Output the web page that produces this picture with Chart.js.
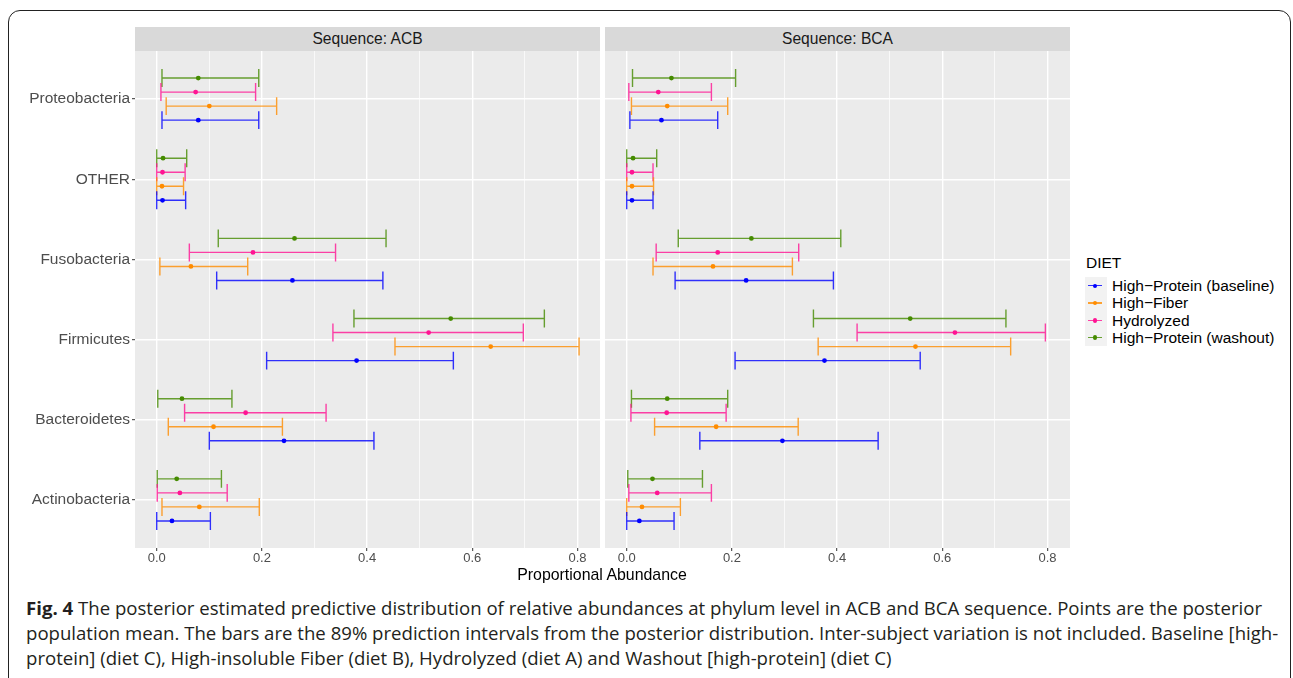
<!DOCTYPE html>
<html>
<head>
<meta charset="utf-8">
<script src="https://cdn.jsdelivr.net/npm/chart.js@4.4.0/dist/chart.umd.min.js"></script>
<style>
  body { margin: 0; background: #fff; width: 1293px; height: 678px; overflow: hidden; position: relative; font-family: "Liberation Sans", Arial, sans-serif; }
  .frame { position: absolute; left: 8px; top: 10px; width: 1283px; height: 720px; box-sizing: border-box; border: 1.5px solid #222; border-radius: 12px; }
  .strip { position: absolute; top: 27px; height: 24px; background: #D9D9D9; color: #1A1A1A; font-size: 15.6px; line-height: 24px; text-align: center; }
  canvas { position: absolute; }
  .xtitle { position: absolute; left: 402px; width: 400px; top: 565px; text-align: center; font-size: 15.9px; line-height: 20px; color: #000; }
  .legend { position: absolute; left: 1085px; top: 252px; font-size: 15.5px; color: #000; }
  .legend .ttl { height: 21px; line-height: 21px; padding-left: 1px; margin-bottom: 4px; }
  .legend .row { position: relative; height: 17.3px; line-height: 17.3px; }
  .legend .key { position: absolute; left: 0; top: 0; width: 22px; height: 17.3px; background: #F2F2F2; }
  .legend .key i { position: absolute; left: 3px; top: 8px; width: 14px; height: 1.4px; }
  .legend .key b { position: absolute; left: 7.5px; top: 6.5px; width: 4.5px; height: 4.5px; border-radius: 50%; }
  .legend .lab { position: absolute; left: 27px; top: 0; white-space: nowrap; }
  .caption { position: absolute; left: 26px; top: 595px; font-family: "Open Sans", sans-serif; font-size: 18.6px; line-height: 25px; color: #231F20; white-space: nowrap; }
</style>
</head>
<body>
<div class="frame"></div>
<div class="strip" style="left:135px; width:465px;">Sequence: ACB</div>
<div class="strip" style="left:605px; width:465px;">Sequence: BCA</div>
<canvas id="acb" width="605" height="527" style="left:0px; top:51px;"></canvas>
<canvas id="bca" width="475" height="527" style="left:600px; top:51px;"></canvas>
<div class="xtitle">Proportional Abundance</div>
<div class="legend" id="legend"><div class="ttl">DIET</div></div>
<div class="caption"><b>Fig. 4</b> The posterior estimated predictive distribution of relative abundances at phylum level in ACB and BCA sequence. Points are the posterior<br>population mean. The bars are the 89% prediction intervals from the posterior distribution. Inter-subject variation is not included. Baseline [high-<br>protein] (diet C), High-insoluble Fiber (diet B), Hydrolyzed (diet A) and Washout [high-protein] (diet C)</div>
<script>
// phyla, top to bottom
const phyla = ['Proteobacteria', 'OTHER', 'Fusobacteria', 'Firmicutes', 'Bacteroidetes', 'Actinobacteria'];
const diets = ['High\u2212Protein (baseline)', 'High\u2212Fiber', 'Hydrolyzed', 'High\u2212Protein (washout)'];
const dietColors = ['#0000FF', '#FF8C00', '#FF1493', '#458B00'];
const xBreaks = [0, 0.1, 0.2, 0.3, 0.4, 0.5, 0.6, 0.7, 0.8];
const xLabels = ['0.0', '', '0.2', '', '0.4', '', '0.6', '', '0.8'];

// [lower 89%, mean, upper 89%] per phylum (same order as phyla)
const acbBaseline = [[0.010, 0.079, 0.194], [0.000, 0.011, 0.055], [0.114, 0.258, 0.430], [0.209, 0.380, 0.564], [0.100, 0.242, 0.413], [0.000, 0.029, 0.102]];
const acbFiber = [[0.018, 0.100, 0.228], [0.000, 0.010, 0.051], [0.006, 0.065, 0.173], [0.453, 0.635, 0.803], [0.022, 0.108, 0.239], [0.010, 0.081, 0.195]];
const acbHydrolyzed = [[0.008, 0.074, 0.188], [0.000, 0.011, 0.054], [0.062, 0.183, 0.340], [0.335, 0.517, 0.697], [0.053, 0.169, 0.322], [0.001, 0.044, 0.134]];
const acbWashout = [[0.010, 0.079, 0.194], [0.000, 0.012, 0.057], [0.117, 0.262, 0.436], [0.375, 0.559, 0.737], [0.002, 0.048, 0.143], [0.001, 0.038, 0.123]];

const bcaBaseline = [[0.006, 0.066, 0.173], [0.000, 0.010, 0.050], [0.092, 0.227, 0.393], [0.206, 0.376, 0.558], [0.139, 0.296, 0.478], [0.000, 0.024, 0.090]];
const bcaFiber = [[0.009, 0.077, 0.192], [0.000, 0.010, 0.051], [0.050, 0.164, 0.315], [0.364, 0.549, 0.730], [0.053, 0.170, 0.326], [0.000, 0.029, 0.102]];
const bcaHydrolyzed = [[0.004, 0.060, 0.161], [0.000, 0.010, 0.050], [0.056, 0.173, 0.327], [0.438, 0.624, 0.796], [0.008, 0.076, 0.189], [0.004, 0.058, 0.161]];
const bcaWashout = [[0.011, 0.085, 0.207], [0.000, 0.012, 0.057], [0.098, 0.237, 0.407], [0.355, 0.539, 0.721], [0.009, 0.077, 0.192], [0.002, 0.049, 0.144]];

const dodge = [-0.2625, -0.0875, 0.0875, 0.2625];
const capHalf = 0.112;

Chart.defaults.font.family = '"Liberation Sans", Arial, sans-serif';

function hexA(hex, a) {
    const n = parseInt(hex.slice(1), 16);
    return 'rgba(' + (n >> 16) + ',' + ((n >> 8) & 255) + ',' + (n & 255) + ',' + a + ')';
}

function buildDatasets(seriesList) {
    const sets = [];
    seriesList.forEach(function(series, d) {
        const bars = [];
        const pts = [];
        series.forEach(function(v, i) {
            const y = phyla.length - i + dodge[d];
            // horizontal bar, then the two caps, separated by gaps
            bars.push({x: v[0], y: y}, {x: v[2], y: y}, {x: v[2], y: null});
            bars.push({x: v[0], y: y - capHalf}, {x: v[0], y: y + capHalf}, {x: v[0], y: null});
            bars.push({x: v[2], y: y - capHalf}, {x: v[2], y: y + capHalf}, {x: v[2], y: null});
            pts.push({x: v[1], y: y});
        });
        sets.push({
            data: bars, showLine: true, spanGaps: false,
            borderColor: hexA(dietColors[d], 0.8), borderWidth: 1.4,
            pointRadius: 0, order: 2
        });
        sets.push({
            data: pts, showLine: false,
            backgroundColor: dietColors[d], borderWidth: 0,
            pointRadius: 2.4, order: 1
        });
    });
    return sets;
}

const panelBg = {
    id: 'panelBg',
    beforeDraw(chart) {
        const a = chart.chartArea;
        const ctx = chart.ctx;
        ctx.save();
        ctx.fillStyle = '#EBEBEB';
        ctx.fillRect(a.left, a.top, a.width, a.height);
        ctx.restore();
    }
};

function isMajor(v) {
    return Math.round(v * 10) % 2 === 0;
}

// no label padding so both panels line up exactly
function noPadding(scale) {
    scale.paddingTop = 0;
    scale.paddingBottom = 0;
    scale.paddingLeft = 0;
    scale.paddingRight = 0;
}

function makeChart(id, seriesList, showY) {
    return new Chart(document.getElementById(id), {
        type: 'scatter',
        data: { datasets: buildDatasets(seriesList) },
        plugins: [panelBg],
        options: {
            responsive: false,
            animation: false,
            events: [],
            layout: { autoPadding: false, padding: { left: 0, right: 5, top: 0, bottom: 0 } },
            plugins: { legend: { display: false }, tooltip: { enabled: false } },
            scales: {
                x: {
                    type: 'linear', min: -0.0413, max: 0.8428,
                    afterBuildTicks: function(scale) {
                        scale.ticks = xBreaks.map(v => ({ value: v }));
                    },
                    afterFit: function(scale) { scale.height = 30; noPadding(scale); },
                    border: { display: false },
                    grid: {
                        color: '#FFFFFF',
                        lineWidth: ctx => isMajor(ctx.tick.value) ? 1.4 : 0.7,
                        tickColor: ctx => isMajor(ctx.tick.value) ? '#333333' : 'rgba(0,0,0,0)',
                        tickWidth: 1, tickLength: 3
                    },
                    ticks: {
                        color: '#4D4D4D', font: { size: 13 }, padding: 0,
                        maxRotation: 0, autoSkip: false,
                        callback: (v, i) => xLabels[i]
                    }
                },
                y: {
                    type: 'linear', min: 0.4, max: 6.6,
                    afterBuildTicks: function(scale) {
                        scale.ticks = phyla.map((p, i) => ({ value: phyla.length - i }));
                    },
                    afterFit: function(scale) { scale.width = showY ? 135 : 5; noPadding(scale); },
                    border: { display: false },
                    grid: {
                        color: '#FFFFFF', lineWidth: 1.4,
                        drawTicks: showY, tickColor: '#333333', tickWidth: 1, tickLength: 3
                    },
                    ticks: {
                        display: showY, color: '#4D4D4D', font: { size: 15.5 }, padding: 2,
                        autoSkip: false,
                        callback: v => phyla[phyla.length - v]
                    }
                }
            }
        }
    });
}

makeChart('acb', [acbBaseline, acbFiber, acbHydrolyzed, acbWashout], true);
makeChart('bca', [bcaBaseline, bcaFiber, bcaHydrolyzed, bcaWashout], false);

// legend
const legend = document.getElementById('legend');
diets.forEach(function(name, d) {
    const row = document.createElement('div');
    row.className = 'row';
    row.innerHTML = '<span class="key"><i style="background:' + hexA(dietColors[d], 0.8) + '"></i>' +
                    '<b style="background:' + dietColors[d] + '"></b></span>' +
                    '<span class="lab">' + name + '</span>';
    legend.appendChild(row);
});
</script>
</body>
</html>
